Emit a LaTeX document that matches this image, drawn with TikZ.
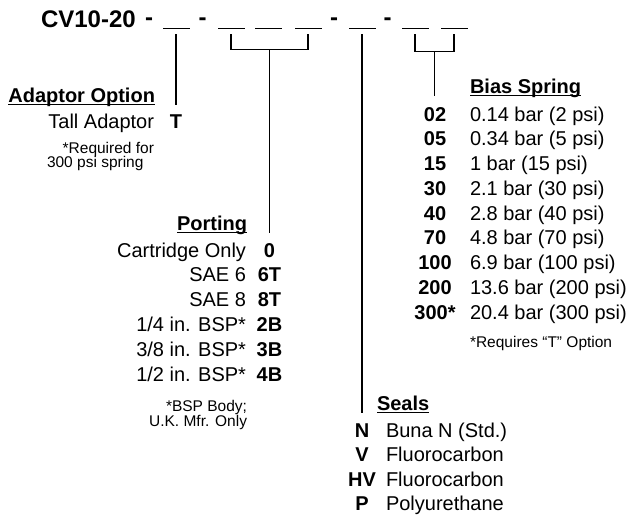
\documentclass[tikz,border=0pt]{standalone}
\usepackage{fontspec}
\setmainfont{Liberation Sans}
\usepackage{tikz}
\usetikzlibrary{positioning}

% underlined heading, rule close under the baseline
\newcommand{\hdline}[1]{\setbox0\hbox{#1}\rlap{\rule[-3pt]{\wd0}{1.1pt}}\box0}

\tikzset{
	every node/.style={inner sep=0pt, outer sep=0pt},
	titel/.style={font=\fontsize{24}{26}\selectfont\bfseries},
	txt/.style={font=\fontsize{20}{24}\selectfont},
	code/.style={font=\fontsize{20}{24}\selectfont\bfseries, anchor=base},
	head/.style={font=\fontsize{20}{24}\selectfont\bfseries},
	note/.style={font=\fontsize{15.5}{15}\selectfont},
	blank/.style={fill=black, minimum width=27pt, minimum height=0.9pt},
	lead/.style={line width=1.1pt},
}

\begin{document}
\begin{tikzpicture}[x=1pt,y=-1pt]
	\useasboundingbox (0,0) rectangle (632,515);

	% Bestellschluessel
	\node[titel, anchor=base west] (cv) at (41,27) {CV10-20};
	\node[titel, anchor=base] (d1) at (149,25) {-};
	\node[titel, anchor=base] (d2) at (202.5,25) {-};
	\node[titel, anchor=base] (d3) at (334,25) {-};
	\node[titel, anchor=base] (d4) at (387.5,25) {-};
	\node[blank] (b1) at (176,28) {};
	\node[blank] (b2a) at (231,28) {};
	\node[blank] (b2b) at (268,28) {};
	\node[blank] (b2c) at (308,28) {};
	\node[blank] (b3) at (362,28) {};
	\node[blank] (b4a) at (415,28) {};
	\node[blank] (b4b) at (454,28) {};

	% Adaptor Option
	\node[head, anchor=base east] (adapthead) at (155,102) {\hdline{Adaptor Option}};
	\node[txt, anchor=base east] (tall) at (154,128) {Tall Adaptor};
	\node[code] (tcode) at (176,128) {T};
	\node[note, anchor=base east] (anote1) at (154,153) {*Required for};
	\node[note, anchor=base west] (anote2) at (47,167) {300 psi spring};
	\draw[lead] ([yshift=-6pt]b1.south) -- ([yshift=-2.5pt]b1.south |- adapthead.base);

	% Porting
	\node[head, anchor=base east] (porthead) at (247,230) {\hdline{Porting}};
	\draw[lead] ([yshift=-6pt]b2a.south) -- ([yshift=-21pt]b2a.south) -- ([yshift=-21pt]b2c.south) -- ([yshift=-6pt]b2c.south);
	\path ([yshift=-21pt]b2a.south) -- ([yshift=-21pt]b2c.south) coordinate[midway] (pmid);
	\draw[lead] (pmid) -- ([yshift=-2.5pt]pmid |- porthead.base);
	\foreach \dsc/\cd [count=\i] in {Cartridge Only/0, SAE 6/6T, SAE 8/8T, {1/4 in. BSP*}/2B, {3/8 in. BSP*}/3B, {1/2 in. BSP*}/4B}{
		\pgfmathsetmacro\yy{257+24.8*(\i-1)}
		\node[txt, anchor=base east] (pd\i) at (246,\yy) {\dsc};
		\node[code] (pc\i) at (269.5,\yy) {\cd};
	}
	\node[note, anchor=base east] (pnote1) at (247,411) {*BSP Body;};
	\node[note, anchor=base east] (pnote2) at (247,426) {U.K. Mfr. Only};

	% Seals
	\node[head, anchor=base west] (sealhead) at (377,410) {\hdline{Seals}};
	\draw[lead] ([yshift=-6pt]b3.south) -- ([yshift=-2.5pt]b3.south |- sealhead.base);
	\foreach \cd/\dsc [count=\i] in {N/Buna N (Std.), V/Fluorocarbon, HV/Fluorocarbon, P/Polyurethane}{
		\pgfmathsetmacro\yy{437+24.5*(\i-1)}
		\node[code] (sc\i) at (362,\yy) {\cd};
		\node[txt, anchor=base west] (sd\i) at (386,\yy) {\dsc};
	}

	% Bias Spring
	\node[head, anchor=base west] (biashead) at (470,93) {\hdline{Bias Spring}};
	\draw[lead] ([yshift=-6pt]b4a.south) -- ([yshift=-23pt]b4a.south) -- ([yshift=-23pt]b4b.south) -- ([yshift=-6pt]b4b.south);
	\path ([yshift=-23pt]b4a.south) -- ([yshift=-23pt]b4b.south) coordinate[midway] (bmid);
	\draw[lead] (bmid) -- ([yshift=-2.5pt]bmid |- biashead.base);
	\foreach \cd/\dsc [count=\i] in {02/0.14 bar (2 psi), 05/0.34 bar (5 psi), 15/1 bar (15 psi), 30/2.1 bar (30 psi), 40/2.8 bar (40 psi), 70/4.8 bar (70 psi), 100/6.9 bar (100 psi), 200/13.6 bar (200 psi), 300*/20.4 bar (300 psi)}{
		\pgfmathsetmacro\yy{121+24.75*(\i-1)}
		\node[code] (bc\i) at (435,\yy) {\cd};
		\node[txt, anchor=base west] (bd\i) at (470,\yy) {\dsc};
	}
	\node[note, anchor=base west] (bnote) at (470,347) {*Requires “T” Option};
\end{tikzpicture}
\end{document}
